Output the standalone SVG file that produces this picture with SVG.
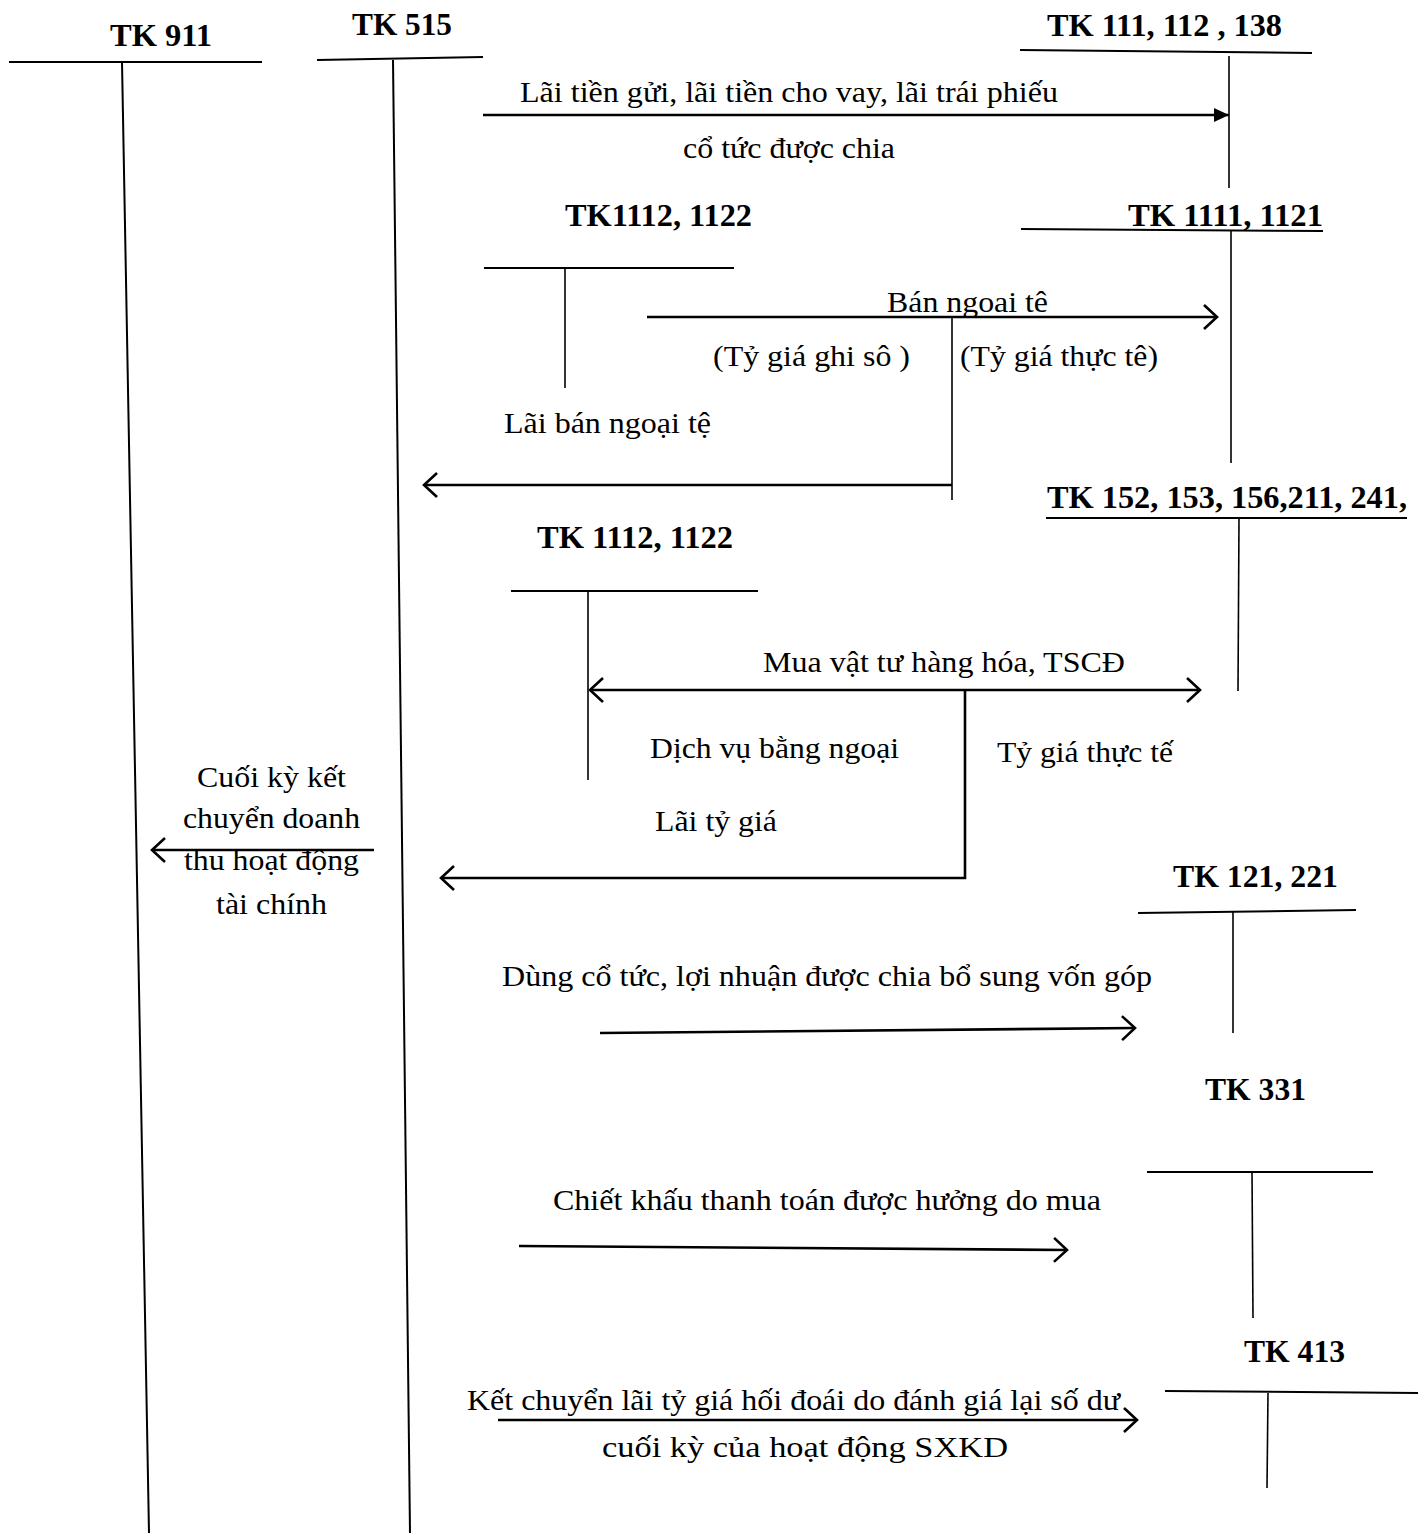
<svg xmlns="http://www.w3.org/2000/svg" width="1423" height="1533" viewBox="0 0 1423 1533">
  <style>
    .hd { font-family: "Liberation Serif", "Times New Roman", serif; font-weight: bold; font-size: 32px; fill: #000; }
    .tx { font-family: "Liberation Serif", "Times New Roman", serif; font-size: 29px; fill: #000; }
    .side { font-family: "Liberation Serif", "Times New Roman", serif; font-size: 29px; fill: #000; }
    .bar { stroke: #000; stroke-width: 2; fill: none; }
    .stem { stroke: #000; stroke-width: 1.6; fill: none; }
    .flow { stroke: #000; stroke-width: 2.6; fill: none; }
  </style>
  <defs>
    <marker id="open" viewBox="-16 -14 20 28" markerWidth="20" markerHeight="28" refX="0" refY="0" orient="auto-start-reverse" markerUnits="userSpaceOnUse">
      <path d="M -13 -12 L 0 0 L -13 12" fill="none" stroke="#000" stroke-width="2.6"/>
    </marker>
    <marker id="solid" viewBox="-16 -8 18 16" markerWidth="18" markerHeight="16" refX="0" refY="0" orient="auto" markerUnits="userSpaceOnUse">
      <path d="M -15 -7 L 0 0 L -15 7 Z" fill="#000"/>
    </marker>
  </defs>

  <rect width="1423" height="1533" fill="#fff"/>

  <!-- T-accounts -->
  <g id="tk911">
    <text class="hd" x="110" y="46" textLength="102" lengthAdjust="spacingAndGlyphs">TK 911</text>
    <line class="bar" x1="9" y1="62" x2="262" y2="62"/>
    <line class="bar" x1="122" y1="62" x2="149" y2="1533"/>
  </g>

  <g id="tk515">
    <text class="hd" x="352" y="35" textLength="100" lengthAdjust="spacingAndGlyphs">TK 515</text>
    <line class="bar" x1="317" y1="60" x2="483" y2="57"/>
    <line class="bar" x1="393" y1="60" x2="410" y2="1533"/>
  </g>

  <g id="tk111-112-138">
    <text class="hd" x="1047" y="36" textLength="235" lengthAdjust="spacingAndGlyphs">TK 111, 112 , 138</text>
    <line class="bar" x1="1020" y1="50" x2="1312" y2="53"/>
    <line class="stem" x1="1229" y1="56" x2="1229" y2="188"/>
  </g>

  <g id="tk1112-1122-a">
    <text class="hd" x="565" y="226" textLength="187" lengthAdjust="spacingAndGlyphs">TK1112, 1122</text>
    <line class="bar" x1="484" y1="268" x2="734" y2="268"/>
    <line class="stem" x1="565" y1="268" x2="565" y2="388"/>
  </g>

  <g id="tk1111-1121">
    <text class="hd" x="1128" y="226" textLength="195" lengthAdjust="spacingAndGlyphs">TK 1111, 1121</text>
    <line class="bar" x1="1021" y1="229" x2="1323" y2="231"/>
    <line class="stem" x1="1231" y1="230" x2="1231" y2="463"/>
  </g>

  <g id="tk152-153-156-211-241">
    <text class="hd" x="1047" y="508" textLength="360" lengthAdjust="spacingAndGlyphs">TK 152, 153, 156,211, 241,</text>
    <line class="bar" x1="1046" y1="518" x2="1407" y2="518"/>
    <line class="stem" x1="1239" y1="518" x2="1238" y2="691"/>
  </g>

  <g id="tk1112-1122-b">
    <text class="hd" x="537" y="548" textLength="196" lengthAdjust="spacingAndGlyphs">TK 1112, 1122</text>
    <line class="bar" x1="511" y1="591" x2="758" y2="591"/>
    <line class="stem" x1="588" y1="591" x2="588" y2="780"/>
  </g>

  <g id="tk121-221">
    <text class="hd" x="1173" y="887" textLength="165" lengthAdjust="spacingAndGlyphs">TK 121, 221</text>
    <line class="bar" x1="1138" y1="913" x2="1356" y2="910"/>
    <line class="stem" x1="1233" y1="912" x2="1233" y2="1033"/>
  </g>

  <g id="tk331">
    <text class="hd" x="1205" y="1100" textLength="101" lengthAdjust="spacingAndGlyphs">TK 331</text>
    <line class="bar" x1="1147" y1="1172" x2="1373" y2="1172"/>
    <line class="stem" x1="1252" y1="1172" x2="1253" y2="1318"/>
  </g>

  <g id="tk413">
    <text class="hd" x="1244" y="1362" textLength="101" lengthAdjust="spacingAndGlyphs">TK 413</text>
    <line class="bar" x1="1165" y1="1391" x2="1418" y2="1393"/>
    <line class="stem" x1="1268" y1="1393" x2="1267" y2="1488"/>
  </g>

  <!-- posting arrows -->
  <g id="connectors">
    <line class="flow" x1="483" y1="115" x2="1229" y2="115" marker-end="url(#solid)"/>
    <line class="flow" x1="647" y1="317" x2="1217" y2="317" marker-end="url(#open)"/>
    <line class="stem" x1="952" y1="317" x2="952" y2="500"/>
    <line class="flow" x1="952" y1="485" x2="424" y2="485" marker-end="url(#open)"/>
    <line class="flow" x1="590" y1="690" x2="1200" y2="690" marker-start="url(#open)" marker-end="url(#open)"/>
    <polyline class="flow" points="965,690 965,878 441,878" marker-end="url(#open)"/>
    <line class="flow" x1="374" y1="850" x2="152" y2="850" marker-end="url(#open)"/>
    <line class="flow" x1="600" y1="1033" x2="1135" y2="1028" marker-end="url(#open)"/>
    <line class="flow" x1="519" y1="1246" x2="1067" y2="1250" marker-end="url(#open)"/>
    <line class="flow" x1="498" y1="1420" x2="1137" y2="1420" marker-end="url(#open)"/>
  </g>

  <!-- arrow captions -->
  <g id="labels">
    <text class="tx" x="520" y="102" textLength="538" lengthAdjust="spacingAndGlyphs">Lãi tiền gửi, lãi tiền cho vay, lãi trái phiếu</text>
    <text class="tx" x="683" y="158" textLength="212" lengthAdjust="spacingAndGlyphs">cổ tức được chia</text>
    <text class="tx" x="887" y="312" textLength="161" lengthAdjust="spacingAndGlyphs">Bán ngoai tê</text>
    <text class="tx" x="713" y="366" textLength="197" lengthAdjust="spacingAndGlyphs">(Tỷ giá ghi sô )</text>
    <text class="tx" x="960" y="366" textLength="198" lengthAdjust="spacingAndGlyphs">(Tỷ giá thực tê)</text>
    <text class="tx" x="504" y="433" textLength="207" lengthAdjust="spacingAndGlyphs">Lãi bán ngoại tệ</text>
    <text class="tx" x="763" y="672" textLength="362" lengthAdjust="spacingAndGlyphs">Mua vật tư hàng hóa, TSCĐ</text>
    <text class="tx" x="650" y="758" textLength="249" lengthAdjust="spacingAndGlyphs">Dịch vụ bằng ngoại</text>
    <text class="tx" x="997" y="762" textLength="176" lengthAdjust="spacingAndGlyphs">Tỷ giá thực tế</text>
    <text class="tx" x="655" y="831" textLength="122" lengthAdjust="spacingAndGlyphs">Lãi tỷ giá</text>
    <text class="side" x="197" y="787" textLength="149" lengthAdjust="spacingAndGlyphs">Cuối kỳ kết</text>
    <text class="side" x="183" y="828" textLength="177" lengthAdjust="spacingAndGlyphs">chuyển doanh</text>
    <text class="side" x="184" y="870" textLength="175" lengthAdjust="spacingAndGlyphs">thu hoạt động</text>
    <text class="side" x="216" y="914" textLength="111" lengthAdjust="spacingAndGlyphs">tài chính</text>
    <text class="tx" x="502" y="986" textLength="650" lengthAdjust="spacingAndGlyphs">Dùng cổ tức, lợi nhuận được chia bổ sung vốn góp</text>
    <text class="tx" x="553" y="1210" textLength="548" lengthAdjust="spacingAndGlyphs">Chiết khấu thanh toán được hưởng do mua</text>
    <text class="tx" x="467" y="1410" textLength="653" lengthAdjust="spacingAndGlyphs">Kết chuyển lãi tỷ giá hối đoái do đánh giá lại số dư</text>
    <text class="tx" x="602" y="1457" textLength="406" lengthAdjust="spacingAndGlyphs">cuối kỳ của hoạt động SXKD</text>
  </g>
</svg>
